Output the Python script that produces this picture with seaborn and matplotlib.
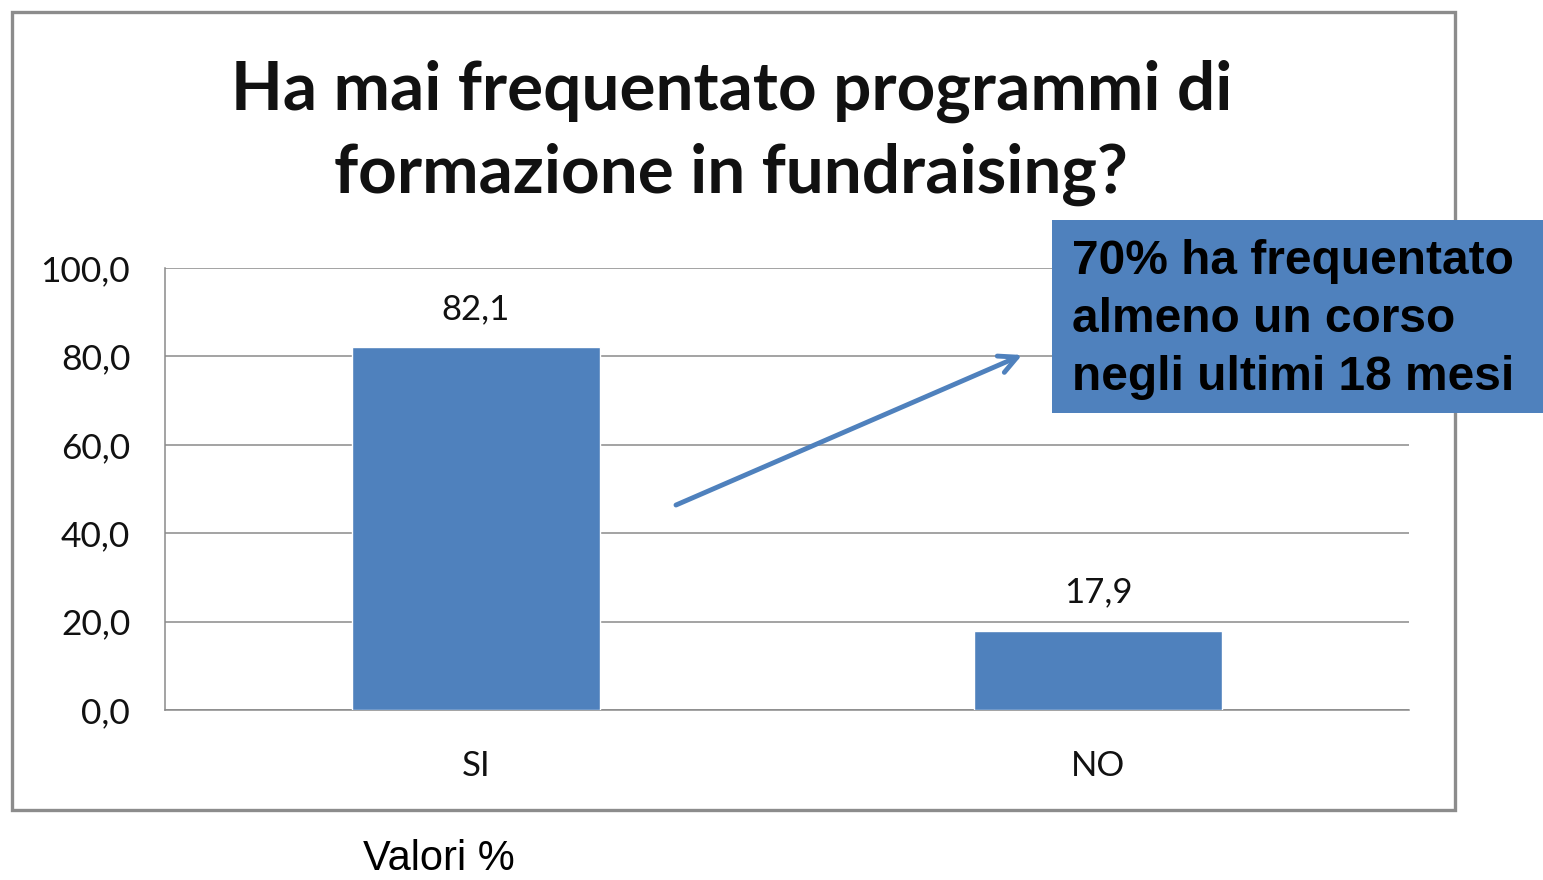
import matplotlib

matplotlib.use("Agg")
import matplotlib.pyplot as plt
import seaborn as sns
from matplotlib.patches import FancyArrowPatch, Rectangle
from matplotlib.ticker import FixedLocator, FuncFormatter

# data
categories = ["SI", "NO"]
percentages = [82.1, 17.9]
y_ticks = [0, 20, 40, 60, 80, 100]

title_text = "Ha mai frequentato programmi di\nformazione in fundraising?"
callout_text = "70% ha frequentato\nalmeno un corso\nnegli ultimi 18 mesi"
footer_text = "Valori %"

BAR_BLUE = "#4F81BD"
GRID_GRAY = "#8a8a8a"


def comma_decimal(value: float) -> str:
    return f"{value:.1f}".replace(".", ",")


sns.set_style("white")
plt.rcParams["font.family"] = ["Lato", "DejaVu Sans"]

fig = plt.figure(figsize=(15.43, 8.8), dpi=100)
ax = fig.add_axes([0.1069, 0.1932, 0.8063, 0.5023])

sns.barplot(x=categories, y=percentages, color=BAR_BLUE, saturation=1, width=0.4, ax=ax, zorder=3)

ax.set_ylim(0, 100)
ax.set_xlim(-0.5, 1.5)
ax.yaxis.set_major_locator(FixedLocator(y_ticks))
ax.yaxis.set_major_formatter(FuncFormatter(lambda v, _: comma_decimal(v)))
ax.grid(axis="y", color=GRID_GRAY, linewidth=1.1, zorder=0)
ax.set_axisbelow(True)

for side in ("top", "right"):
    ax.spines[side].set_visible(False)
for side in ("left", "bottom"):
    ax.spines[side].set_color(GRID_GRAY)
    ax.spines[side].set_linewidth(1.1)

ax.tick_params(axis="y", length=7, width=1.1, color=GRID_GRAY, pad=18, labelsize=25.5, labelcolor="#111111")
ax.tick_params(axis="x", which="major", length=0, pad=29, labelsize=25, labelcolor="#111111")
ax.set_xticks([-0.5, 0.5, 1.5], minor=True)
ax.tick_params(axis="x", which="minor", length=7, width=1.1, color=GRID_GRAY)
ax.set_xlabel("")
ax.set_ylabel("")

ax.bar_label(ax.containers[0], labels=[comma_decimal(v) for v in percentages], padding=16, fontsize=25, color="#111111")

# outer chart frame
fig.add_artist(Rectangle((0.0078, 0.0795), 0.9352, 0.9068, transform=fig.transFigure,
                         fill=False, edgecolor="#8c8c8c", linewidth=2.4))

fig.text(0.474, 0.849, title_text, ha="center", va="center", fontsize=48.5,
         fontweight="bold", linespacing=1.38, color="#111111")

# callout box with arrow
fig.add_artist(FancyArrowPatch((0.4381, 0.4261), (0.6624, 0.5966), transform=fig.transFigure,
                               arrowstyle="->", mutation_scale=32, linewidth=3.5, color=BAR_BLUE,
                               shrinkA=0, shrinkB=0))
fig.add_artist(Rectangle((0.6818, 0.5307), 0.32, 0.2193, transform=fig.transFigure,
                         facecolor=BAR_BLUE, edgecolor="none"))
fig.text(0.6948, 0.637, callout_text, ha="left", va="center", fontsize=34.5, fontweight="bold",
         family=["Liberation Sans", "DejaVu Sans"], linespacing=1.37, color="black")

fig.text(0.2842, 0.024, footer_text, ha="center", va="center", fontsize=30,
         family=["Liberation Sans", "DejaVu Sans"], color="black")

fig.savefig("out.png", dpi=100)
